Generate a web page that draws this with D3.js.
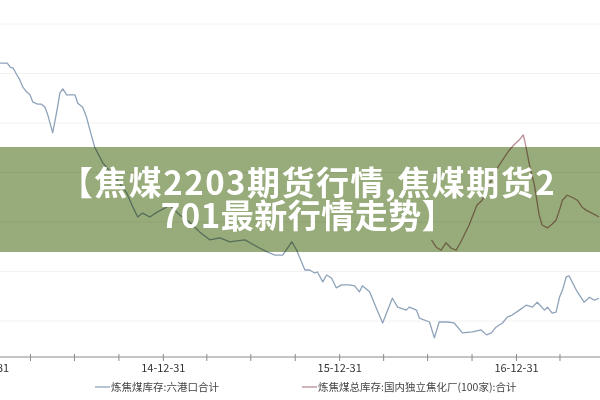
<!DOCTYPE html>
<html><head><meta charset="utf-8">
<script src="https://cdn.jsdelivr.net/npm/d3@7"></script>
<style>body{margin:0;background:#fff}svg{display:block}</style>
</head><body><svg id="c" width="600" height="400"></svg>
<script>
// Series 1: 炼焦煤库存:六港口合计
const portDates = ["2014-01-28","2014-02-12","2014-02-18","2014-02-24","2014-03-04","2014-03-10","2014-03-16","2014-03-24","2014-03-31","2014-04-06","2014-04-16","2014-04-24","2014-05-01","2014-05-07","2014-05-17","2014-05-26","2014-06-01","2014-06-07","2014-06-15","2014-07-02","2014-07-08","2014-07-18","2014-07-26","2014-08-02","2014-08-12","2014-08-29","2014-09-23","2014-10-17","2014-10-30","2014-11-09","2014-11-19","2014-12-04","2014-12-19","2015-01-04","2015-01-14","2015-02-04","2015-02-24","2015-03-17","2015-04-07","2015-04-28","2015-05-19","2015-06-02","2015-06-19","2015-07-03","2015-07-20","2015-08-05","2015-08-20","2015-09-05","2015-09-24","2015-10-04","2015-10-21","2015-10-31","2015-11-10","2015-11-16","2015-11-27","2015-12-05","2015-12-15","2015-12-25","2016-01-05","2016-01-21","2016-02-01","2016-02-11","2016-02-17","2016-03-03","2016-03-17","2016-03-30","2016-04-19","2016-04-30","2016-05-18","2016-05-24","2016-06-08","2016-06-14","2016-07-05","2016-07-15","2016-07-25","2016-08-11","2016-08-25","2016-09-11","2016-10-02","2016-10-20","2016-10-31","2016-11-10","2016-11-20","2016-12-03","2016-12-13","2016-12-23","2017-01-07","2017-01-21","2017-02-03","2017-02-13","2017-02-28","2017-03-06","2017-03-16","2017-03-24","2017-03-31","2017-04-06","2017-04-14","2017-04-20","2017-05-05","2017-05-21","2017-06-01","2017-06-11","2017-06-21"];
const portValues = [621,621,613,611,597,587,573,563,557,542,538,538,532,516,480,526,561,569,557,557,540,532,512,486,451,419,391,359,330,310,318,310,320,328,334,314,300,280,264,268,260,262,264,256,247,239,233,233,260,243,203,203,197,199,179,193,187,167,173,173,171,159,171,159,126,96,146,128,122,128,122,106,98,66,98,98,96,76,78,82,72,76,88,96,108,112,122,132,128,138,122,128,116,118,148,162,189,191,162,138,148,142,146];
// Series 2: 炼焦煤总库存:国内独立焦化厂(100家):合计
const plantDates = ["2016-07-09","2016-07-19","2016-07-29","2016-08-08","2016-08-19","2016-08-29","2016-09-08","2016-09-25","2016-10-11","2016-10-22","2016-11-05","2016-11-20","2016-12-03","2016-12-17","2016-12-27","2017-01-07","2017-01-15","2017-01-19","2017-01-28","2017-02-07","2017-02-17","2017-02-23","2017-03-06","2017-03-16","2017-03-24","2017-03-31","2017-04-06","2017-04-16","2017-04-26","2017-05-07","2017-05-17","2017-05-25","2017-06-06","2017-06-21"];
const plantValues = [264,249,243,258,247,243,260,294,334,344,375,405,425,445,456,466,476,460,415,375,314,294,288,296,304,324,344,354,350,344,330,324,318,310];
const tickDates = ["2013-12-31","2014-03-31","2014-06-30","2014-09-30","2014-12-31","2015-03-31","2015-06-30","2015-09-30","2015-12-31","2016-03-31","2016-06-30","2016-09-30","2016-12-31","2017-03-31"];
const labelDates = ["2013-12-31","2014-12-31","2015-12-31","2016-12-31"];
const gridValues = [100,200,300,400,500,600,700];
const seriesNames = ["炼焦煤库存:六港口合计","炼焦煤总库存:国内独立焦化厂(100家):合计"];
const seriesColors = ["#8ea3ba","#b98c92"];
const titleLines = ["【焦煤2203期货行情,焦煤期货2","701最新行情走势】"];

const parse = d3.utcParse("%Y-%m-%d");
const svg = d3.select("#c");
const x = d3.scaleUtc().domain([parse("2013-12-31"), parse("2016-12-31")]).range([-13.5, 516]);
const y = d3.scaleLinear().domain([0, 700]).range([370.5, 24]);
const axisY = 357;

// grid
svg.append("g").selectAll("line").data(gridValues).join("line")
  .attr("x1", 0).attr("x2", 600).attr("y1", d => y(d)).attr("y2", d => y(d))
  .attr("stroke", "#f2f2f2").attr("stroke-width", 1);

// lines
const line = d3.line().x(d => x(d[0])).y(d => y(d[1]));
const s1 = portDates.map((d, i) => [parse(d), portValues[i]]);
const s2 = plantDates.map((d, i) => [parse(d), plantValues[i]]);
[s1, s2].forEach((s, i) => {
  svg.append("path").datum(s).attr("d", line).attr("fill", "none")
    .attr("stroke", seriesColors[i]).attr("stroke-width", 1.3).attr("stroke-linejoin", "round");
});

// axis
svg.append("line").attr("x1", 0).attr("x2", 600).attr("y1", axisY).attr("y2", axisY)
  .attr("stroke", "#8a8a8a").attr("stroke-width", 1);
const labelSet = new Set(labelDates);
const fmt = d3.utcFormat("%y-%m-%d");
const ax = d3.axisBottom(x).tickValues(tickDates.map(parse)).tickSize(4)
  .tickFormat(d => labelSet.has(d3.utcFormat("%Y-%m-%d")(d)) ? fmt(d) : "");
const g = svg.append("g").attr("transform", `translate(0,${axisY})`).call(ax);
g.select(".domain").remove();
g.selectAll(".tick line").attr("y1", -3).attr("y2", 4).attr("stroke", "#8a8a8a");
g.selectAll(".tick text").attr("y", 15).attr("dy", 0)
  .attr("font-family", "'Noto Sans CJK SC', sans-serif").attr("font-size", 11).attr("fill", "#333");

// legend
const legX = [95, 302];
seriesNames.forEach((n, i) => {
  const lg = svg.append("g").attr("transform", `translate(${legX[i]},387)`);
  lg.append("line").attr("x1", 0).attr("x2", 15).attr("stroke", seriesColors[i]).attr("stroke-width", 1.3);
  lg.append("text").attr("x", 16).attr("y", 4).text(n)
    .attr("font-family", "'Noto Sans CJK SC', sans-serif").attr("font-size", 10.5).attr("fill", "#444");
});

// banner
svg.append("rect").attr("x", 0).attr("y", 147).attr("width", 600).attr("height", 105)
  .attr("fill", "rgb(152,171,122)").style("mix-blend-mode", "multiply");
const spacing = [1.5, 0.5];
svg.append("g").selectAll("text").data(titleLines).join("text")
  .attr("x", 308).attr("y", (d, i) => 195 + i * 33).attr("text-anchor", "middle")
  .attr("font-family", "'Noto Sans CJK SC', sans-serif").attr("font-weight", 700)
  .attr("letter-spacing", (d, i) => spacing[i])
  .attr("font-size", 33).attr("fill", "#fff").text(d => d);
</script></body></html>
